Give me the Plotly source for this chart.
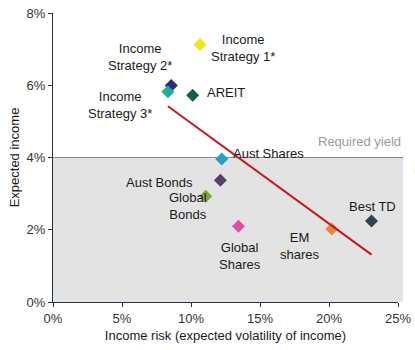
import plotly.graph_objects as go

# Data
names = ["Income Strategy 1*", "Income Strategy 2*", "Income Strategy 3*", "AREIT",
         "Aust Shares", "Aust Bonds", "Global Bonds", "Global Shares", "EM shares", "Best TD"]
risk = [10.65, 8.57, 8.33, 10.12, 12.23, 12.13, 11.07, 13.44, 20.2, 23.08]
income = [7.13, 5.99, 5.82, 5.72, 3.96, 3.37, 2.93, 2.10, 2.02, 2.24]
trend_x = [8.33, 23.08]
trend_y = [5.42, 1.31]
required_yield = 4.0
x_ticks = [0, 5, 10, 15, 20, 25]
y_ticks = [0, 2, 4, 6, 8]

# Styles
colors = ["#f2e41c", "#2b2a78", "#1aae9c", "#1b5a4c", "#2a9fc6", "#5e3c6c",
          "#77a83c", "#df4ea2", "#e8893a", "#2b4456"]
labels = {
    "Income Strategy 1*": ("Income<br>Strategy 1*", 13.79, 7.02),
    "Income Strategy 2*": ("Income<br>Strategy 2*", 6.29, 6.79),
    "Income Strategy 3*": ("Income<br>Strategy 3*", 4.88, 5.46),
    "AREIT": ("AREIT", 12.54, 5.80),
    "Aust Shares": ("Aust Shares", 15.6, 4.11),
    "Aust Bonds": ("Aust Bonds", 7.74, 3.30),
    "Global Bonds": ("Global<br>Bonds", 9.78, 2.65),
    "Global Shares": ("Global<br>Shares", 13.55, 1.26),
    "EM shares": ("EM<br>shares", 17.87, 1.56),
    "Best TD": ("Best TD", 23.16, 2.63),
}

FONT = "Liberation Sans, Arial"

fig = go.Figure()

for n, x, y, c in zip(names, risk, income, colors):
    fig.add_trace(go.Scatter(x=[x], y=[y], mode="markers", name=n,
                             marker=dict(symbol="diamond", size=10, color=c),
                             showlegend=False, hoverinfo="skip"))

fig.add_trace(go.Scatter(x=trend_x, y=trend_y, mode="lines",
                         line=dict(color="#c8171e", width=2),
                         showlegend=False, hoverinfo="skip"))

# Required yield shaded region
fig.add_shape(type="rect", xref="paper", yref="y", x0=0, x1=1.0145, y0=0, y1=required_yield,
              fillcolor="#e3e3e3", line=dict(width=0), layer="below")
fig.add_shape(type="line", xref="paper", yref="y", x0=0, x1=1.0145,
              y0=required_yield, y1=required_yield,
              line=dict(color="#8c8c8c", width=1), layer="below")

annotations = []
for n in names:
    t, ax, ay = labels[n]
    annotations.append(dict(x=ax, y=ay, text=t, showarrow=False, xref="x", yref="y",
                            font=dict(family=FONT, size=13, color="#1a1a1a"),
                            align="center"))
annotations.append(dict(x=22.23, y=4.43, text="Required yield", showarrow=False,
                        font=dict(family=FONT, size=13, color="#9a9a9a")))
annotations.append(dict(x=1.04, y=0.46, xref="paper", yref="paper", text="(", showarrow=False,
                        xanchor="left",
                        font=dict(family=FONT, size=13, color="#9a9a9a")))

fig.update_layout(
    width=415, height=350,
    margin=dict(l=53, r=17, t=13, b=48, autoexpand=False),
    plot_bgcolor="white", paper_bgcolor="white",
    font=dict(family=FONT, size=13, color="#333333"),
    annotations=annotations,
    xaxis=dict(range=[0, 25], tickvals=x_ticks, ticktext=[f"{v}%" for v in x_ticks],
               showgrid=False, zeroline=False, showline=True, linecolor="#1f3345",
               linewidth=1, ticks="outside", ticklen=4, tickcolor="#1f3345",
               automargin=False,
               title=dict(text="Income risk (expected volatility of income)",
                          font=dict(size=13, color="#1a1a1a"), standoff=6),
               tickfont=dict(size=13, color="#333333")),
    yaxis=dict(range=[0, 8], tickvals=y_ticks, ticktext=[f"{v}%" for v in y_ticks],
               showgrid=False, zeroline=False, showline=True, linecolor="#1f3345",
               linewidth=1, ticks="outside", ticklen=4, tickcolor="#1f3345",
               automargin=False,
               title=dict(text="Expected income", font=dict(size=13, color="#1a1a1a"), standoff=4),
               tickfont=dict(size=13, color="#333333")),
)

fig.write_html("out.html")
